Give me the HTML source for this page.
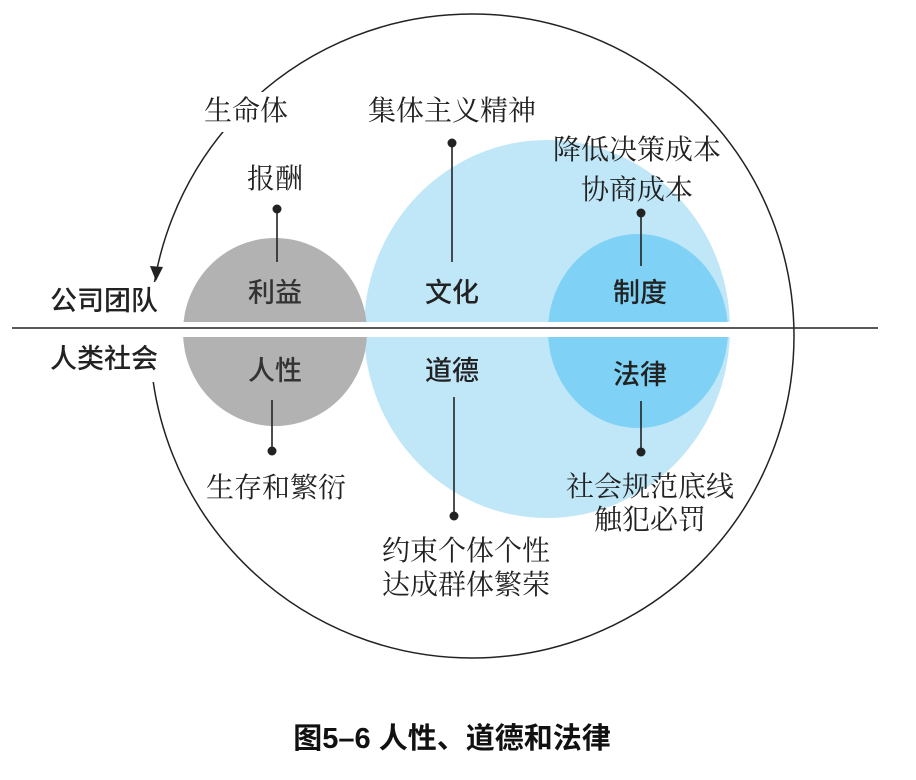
<!DOCTYPE html>
<html><head><meta charset="utf-8"><style>
html,body{margin:0;padding:0;background:#fff;}
svg{display:block}
.s{font-family:"Liberation Serif","Noto Serif CJK SC",serif;font-size:28px;fill:#222;text-anchor:middle}
.b{font-family:"Liberation Sans","Noto Sans CJK SC",sans-serif;font-size:27px;fill:#222;text-anchor:middle;font-weight:500}
</style></head><body>
<svg width="916" height="780" viewBox="0 0 916 780" xmlns="http://www.w3.org/2000/svg">
<defs><clipPath id="c"><rect x="0" y="0" width="916" height="322"/><rect x="0" y="337" width="916" height="400"/></clipPath></defs>
<g clip-path="url(#c)">
<ellipse cx="547" cy="329" rx="183" ry="189" fill="#c0e7f8"/>
<ellipse cx="638" cy="331" rx="90" ry="97" fill="#7fd2f6"/>
<ellipse cx="275" cy="332" rx="92" ry="94" fill="#b2b2b2"/>
</g>
<circle cx="472" cy="336" r="322" fill="none" stroke="#222" stroke-width="1.5"/>
<rect x="190" y="92" width="112" height="40" fill="#fff"/>
<rect x="30" y="282" width="140" height="100" fill="#fff"/>
<path d="M150,266 L156,281 L163,267 Z" fill="#222"/>
<line x1="12" y1="328" x2="878" y2="328" stroke="#222" stroke-width="1.6"/>
<g stroke="#222" stroke-width="1.6">
<line x1="277" y1="209" x2="277" y2="262"/>
<line x1="452" y1="143" x2="452" y2="262"/>
<line x1="641" y1="213" x2="641" y2="266"/>
<line x1="272" y1="400" x2="272" y2="451"/>
<line x1="454" y1="397" x2="454" y2="516"/>
<line x1="641" y1="401" x2="641" y2="452"/>
</g>
<g fill="#222">
<circle cx="277" cy="209" r="4.5"/><circle cx="452" cy="143" r="4.5"/><circle cx="641" cy="213" r="4.5"/>
<circle cx="272" cy="451" r="4.5"/><circle cx="454" cy="516" r="4.5"/><circle cx="641" cy="452" r="4.5"/>
</g>
<text class="s" x="246" y="120">生命体</text>
<text class="s" x="452" y="120">集体主义精神</text>
<text class="s" x="637" y="159">降低决策成本</text>
<text class="s" x="637" y="199">协商成本</text>
<text class="s" x="275" y="188">报酬</text>
<text class="b" x="104" y="310">公司团队</text>
<text class="b" x="104" y="368">人类社会</text>
<text class="b" x="275" y="302" style="fill:#333">利益</text>
<text class="b" x="452" y="302">文化</text>
<text class="b" x="640" y="302">制度</text>
<text class="b" x="275" y="380" style="fill:#333">人性</text>
<text class="b" x="452" y="380">道德</text>
<text class="b" x="640" y="384">法律</text>
<text class="s" x="276" y="497">生存和繁衍</text>
<text class="s" x="650" y="496">社会规范底线</text>
<text class="s" x="650" y="529">触犯必罚</text>
<text class="s" x="466" y="560">约束个体个性</text>
<text class="s" x="466" y="594">达成群体繁荣</text>
<text x="452" y="748" style="font-family:'Liberation Sans','Noto Sans CJK SC',sans-serif;font-size:29px;font-weight:bold;fill:#111;text-anchor:middle">图5–6 人性、道德和法律</text>
</svg>
</body></html>
